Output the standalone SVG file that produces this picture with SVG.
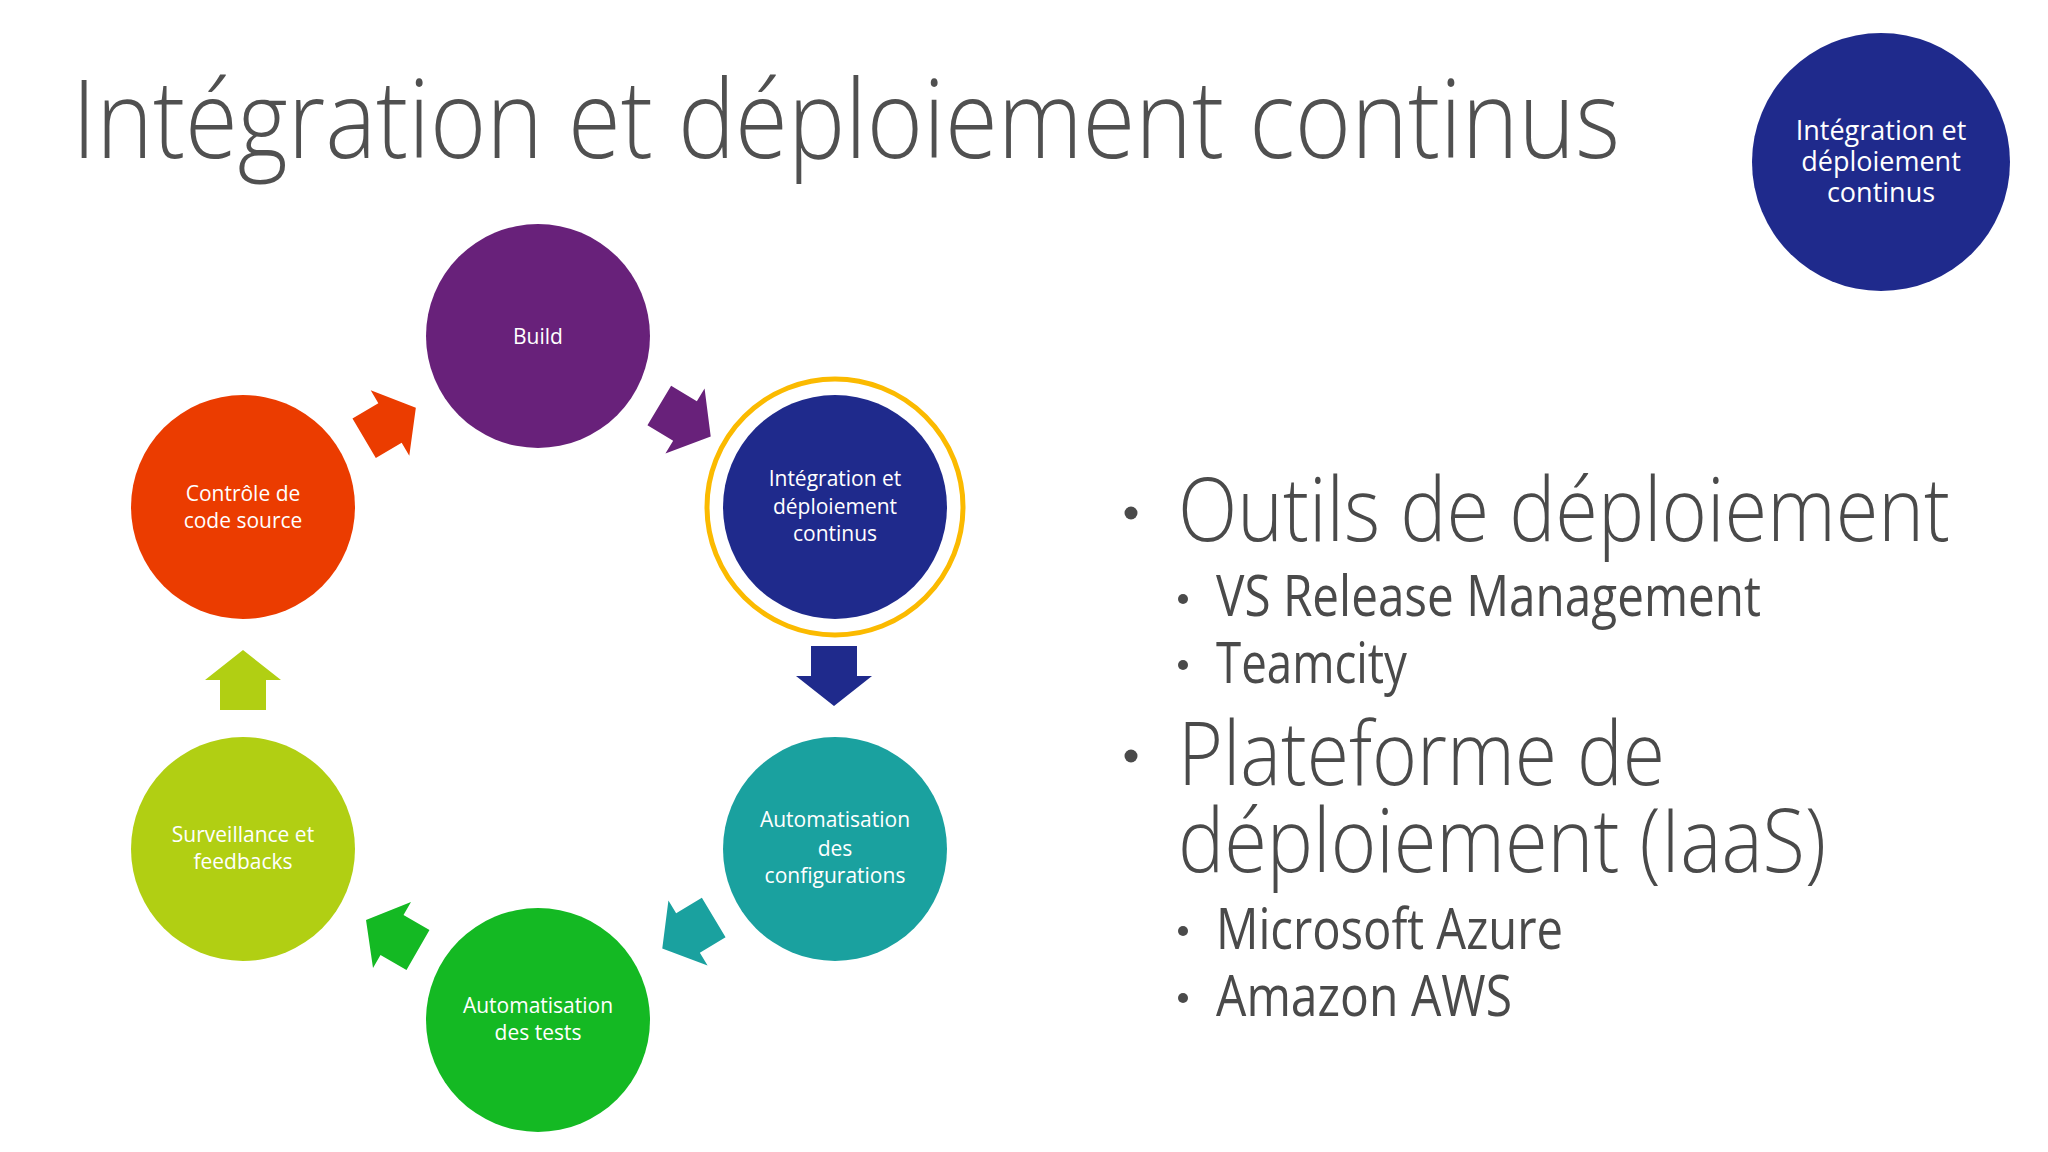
<svg xmlns="http://www.w3.org/2000/svg" width="2048" height="1152" viewBox="0 0 2048 1152">
  <defs>
    <style>
      .title { font-family: "Open Sans", "Noto Sans", "Liberation Sans", sans-serif; font-weight: 300; fill: #505050; }
      .body { font-family: "Open Sans", "Noto Sans", "Liberation Sans", sans-serif; font-weight: 300; fill: #4a4a4a; }
      .sub { font-family: "Open Sans", "Noto Sans", "Liberation Sans", sans-serif; font-weight: 400; fill: #4a4a4a; }
      .lbl { font-family: "Open Sans", "Noto Sans", "Liberation Sans", sans-serif; font-weight: 400; font-size: 21px; fill: #ffffff; text-anchor: middle; }
      .lblbig { font-family: "Open Sans", "Noto Sans", "Liberation Sans", sans-serif; font-weight: 400; font-size: 27px; fill: #ffffff; text-anchor: middle; }
      .bul { fill: #4a4a4a; }
    </style>
    <polygon id="arrow" points="-30,-23 0,-23 0,-38 30,0 0,38 0,23 -30,23"/>
  </defs>

  <rect width="2048" height="1152" fill="#ffffff"/>

  <text class="title" x="72" y="158" font-size="108" textLength="1548" lengthAdjust="spacingAndGlyphs">Intégration et déploiement continus</text>

  <g id="node-header">
    <circle cx="1881" cy="162" r="129" fill="#1F2A8C"/>
    <text class="lblbig" x="1881" y="140">Intégration et</text>
    <text class="lblbig" x="1881" y="171">déploiement</text>
    <text class="lblbig" x="1881" y="202">continus</text>
  </g>

  <g id="connectors">
    <use href="#arrow" fill="#EB3C00" transform="translate(390,423) rotate(-30.5)"/>
    <use href="#arrow" fill="#68217A" transform="translate(685,421) rotate(31)"/>
    <use href="#arrow" fill="#1F2A8C" transform="translate(834,676) rotate(90)"/>
    <use href="#arrow" fill="#1AA19F" transform="translate(688,933) rotate(149)"/>
    <use href="#arrow" fill="#14B923" transform="translate(392,935) rotate(210)"/>
    <use href="#arrow" fill="#B1CF13" transform="translate(243,680) rotate(-90)"/>
  </g>

  <g id="node-build">
    <circle cx="538" cy="336" r="112" fill="#68217A"/>
    <text class="lbl" x="538" y="344">Build</text>
  </g>

  <g id="node-integration">
    <circle cx="835" cy="507" r="128" fill="none" stroke="#FBBA00" stroke-width="5"/>
    <circle cx="835" cy="507" r="112" fill="#1F2A8C"/>
    <text class="lbl" x="835" y="486">Intégration et</text>
    <text class="lbl" x="835" y="514">déploiement</text>
    <text class="lbl" x="835" y="541">continus</text>
  </g>

  <g id="node-config">
    <circle cx="835" cy="849" r="112" fill="#1AA19F"/>
    <text class="lbl" x="835" y="827">Automatisation</text>
    <text class="lbl" x="835" y="856">des</text>
    <text class="lbl" x="835" y="883">configurations</text>
  </g>

  <g id="node-tests">
    <circle cx="538" cy="1020" r="112" fill="#14B923"/>
    <text class="lbl" x="538" y="1013">Automatisation</text>
    <text class="lbl" x="538" y="1040">des tests</text>
  </g>

  <g id="node-monitoring">
    <circle cx="243" cy="849" r="112" fill="#B1CF13"/>
    <text class="lbl" x="243" y="842">Surveillance et</text>
    <text class="lbl" x="243" y="869">feedbacks</text>
  </g>

  <g id="node-source">
    <circle cx="243" cy="507" r="112" fill="#EB3C00"/>
    <text class="lbl" x="243" y="501">Contrôle de</text>
    <text class="lbl" x="243" y="528">code source</text>
  </g>

  <g id="bullets">
    <circle class="bul" cx="1131" cy="513" r="6.5"/>
    <text class="body" x="1178" y="541" font-size="88" textLength="772" lengthAdjust="spacingAndGlyphs">Outils de déploiement</text>
    <circle class="bul" cx="1183" cy="599" r="5"/>
    <text class="sub" x="1216" y="616" font-size="56" textLength="545" lengthAdjust="spacingAndGlyphs">VS Release Management</text>
    <circle class="bul" cx="1183" cy="665" r="5"/>
    <text class="sub" x="1216" y="683" font-size="56" textLength="191" lengthAdjust="spacingAndGlyphs">Teamcity</text>
    <circle class="bul" cx="1131" cy="756" r="6.5"/>
    <text class="body" x="1178" y="785" font-size="88" textLength="487" lengthAdjust="spacingAndGlyphs">Plateforme de</text>
    <text class="body" x="1178" y="872" font-size="88" textLength="648" lengthAdjust="spacingAndGlyphs">déploiement (IaaS)</text>
    <circle class="bul" cx="1183" cy="931" r="5"/>
    <text class="sub" x="1216" y="949" font-size="56" textLength="347" lengthAdjust="spacingAndGlyphs">Microsoft Azure</text>
    <circle class="bul" cx="1183" cy="998" r="5"/>
    <text class="sub" x="1216" y="1016" font-size="56" textLength="296" lengthAdjust="spacingAndGlyphs">Amazon AWS</text>
  </g>
</svg>
